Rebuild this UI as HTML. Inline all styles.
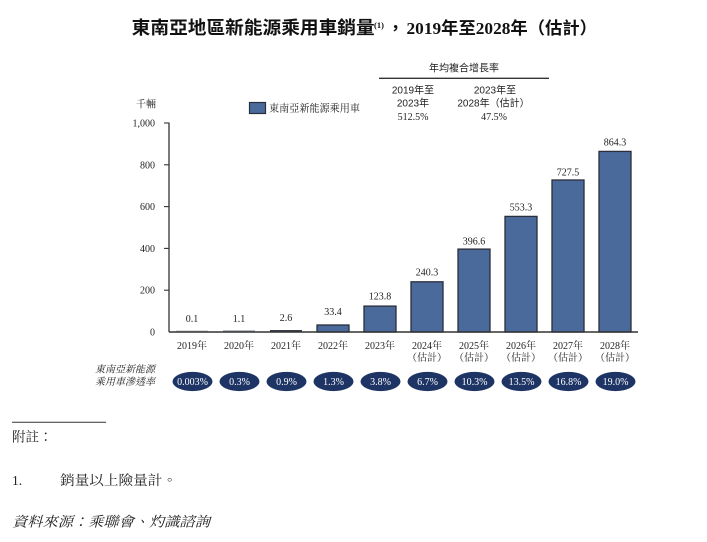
<!DOCTYPE html>
<html lang="zh-TW"><head><meta charset="utf-8"><style>
html,body{margin:0;padding:0;background:#fff;}
svg{display:block;}
.t{font-family:"Liberation Serif","Noto Sans CJK TC",sans-serif;font-weight:bold;fill:#111;}
.s{font-family:"Liberation Sans","Noto Sans CJK TC",sans-serif;fill:#222;}
.r{font-family:"Liberation Serif","Noto Serif CJK SC",serif;fill:#222;}
.w{font-family:"Liberation Serif","Noto Serif CJK SC",serif;fill:#fff;}
</style></head><body>
<svg lang="zh-TW" width="707" height="542" viewBox="0 0 707 542" xmlns="http://www.w3.org/2000/svg">
<!-- Title -->
<text class="t" x="131.7" y="34" font-size="18" textLength="243" lengthAdjust="spacingAndGlyphs">東南亞地區新能源乘用車銷量</text>
<text class="t" x="374" y="28" font-size="8.5" font-weight="normal">(1)</text>
<text class="t" x="387" y="34" font-size="17">，</text>
<text class="t" x="406.5" y="34" font-size="17" textLength="190.5" lengthAdjust="spacingAndGlyphs">2019年至2028年（估計）</text>

<!-- CAGR header -->
<text class="s" x="464" y="71.5" font-size="10" text-anchor="middle">年均複合增長率</text>
<line x1="379" y1="78.3" x2="549" y2="78.3" stroke="#333" stroke-width="1.3"/>
<text class="s" x="413" y="93.5" font-size="10" text-anchor="middle">2019年至</text>
<text class="s" x="413" y="106.5" font-size="10" text-anchor="middle">2023年</text>
<text class="r" x="413" y="120" font-size="10" text-anchor="middle">512.5%</text>
<text class="s" x="495" y="93.5" font-size="10" text-anchor="middle">2023年至</text>
<text class="s" x="493.5" y="106.5" font-size="10" text-anchor="middle">2028年（估計）</text>
<text class="r" x="494" y="120" font-size="10" text-anchor="middle">47.5%</text>

<!-- unit + legend -->
<text class="r" x="146" y="107.5" font-size="10" text-anchor="middle">千輛</text>
<rect x="249.5" y="102.5" width="16" height="11" fill="#4a6a9b" stroke="#2a2d3a" stroke-width="1.2"/>
<text class="r" x="269" y="111.5" font-size="10.5" textLength="91" lengthAdjust="spacingAndGlyphs">東南亞新能源乘用車</text>

<!-- Y axis -->
<line x1="169" y1="122.5" x2="169" y2="332" stroke="#333" stroke-width="1.3"/>
<g stroke="#333" stroke-width="1.1">
<line x1="164" y1="123" x2="169" y2="123"/>
<line x1="164" y1="164.8" x2="169" y2="164.8"/>
<line x1="164" y1="206.6" x2="169" y2="206.6"/>
<line x1="164" y1="248.4" x2="169" y2="248.4"/>
<line x1="164" y1="290.2" x2="169" y2="290.2"/>
</g>
<g class="r" font-size="10" text-anchor="end">
<text x="155" y="126.5">1,000</text>
<text x="155" y="168.3">800</text>
<text x="155" y="210.1">600</text>
<text x="155" y="251.9">400</text>
<text x="155" y="293.7">200</text>
<text x="155" y="335.5">0</text>
</g>

<!-- Bars -->
<g fill="#4a6a9b" stroke="#2a2d3a" stroke-width="1.3">
<rect x="317" y="325" width="32" height="7"/>
<rect x="364" y="306.1" width="32" height="25.9"/>
<rect x="411" y="281.8" width="32" height="50.2"/>
<rect x="458" y="249.1" width="32" height="82.9"/>
<rect x="505" y="216.4" width="32" height="115.6"/>
<rect x="552" y="180" width="32" height="152"/>
<rect x="599" y="151.4" width="32" height="180.6"/>
</g>
<rect x="176" y="330.5" width="32" height="1.2" fill="#b8bcc4"/>
<rect x="223" y="330.3" width="32" height="1.4" fill="#9aa0aa"/>
<rect x="270" y="330" width="32" height="1.8" fill="#3a3e4a"/>
<line x1="169" y1="332" x2="638" y2="332" stroke="#333" stroke-width="1.5"/>

<!-- value labels -->
<g class="r" font-size="10" text-anchor="middle">
<text x="192" y="322">0.1</text>
<text x="239" y="322">1.1</text>
<text x="286" y="321">2.6</text>
<text x="333" y="315">33.4</text>
<text x="380" y="299.3">123.8</text>
<text x="427" y="275.3">240.3</text>
<text x="474" y="244.3">396.6</text>
<text x="521" y="210.3">553.3</text>
<text x="568" y="175.3">727.5</text>
<text x="615" y="145.3">864.3</text>
</g>

<!-- x labels -->
<g class="r" font-size="10" text-anchor="middle">
<text x="192" y="349">2019年</text>
<text x="239" y="349">2020年</text>
<text x="286" y="349">2021年</text>
<text x="333" y="349">2022年</text>
<text x="380" y="349">2023年</text>
<text x="427" y="349">2024年</text>
<text x="474" y="349">2025年</text>
<text x="521" y="349">2026年</text>
<text x="568" y="349">2027年</text>
<text x="615" y="349">2028年</text>
<text x="427" y="361">（估計）</text>
<text x="474" y="361">（估計）</text>
<text x="521" y="361">（估計）</text>
<text x="568" y="361">（估計）</text>
<text x="615" y="361">（估計）</text>
</g>

<!-- penetration row -->
<g class="r" font-size="10" font-style="italic" text-anchor="end">
<text x="155" y="372.5">東南亞新能源</text>
<text x="155" y="385">乘用車滲透率</text>
</g>
<g fill="#1d3465">
<ellipse cx="192.5" cy="381.5" rx="20" ry="9.6"/>
<ellipse cx="239.5" cy="381.5" rx="20" ry="9.6"/>
<ellipse cx="286.5" cy="381.5" rx="20" ry="9.6"/>
<ellipse cx="333.5" cy="381.5" rx="20" ry="9.6"/>
<ellipse cx="380.5" cy="381.5" rx="20" ry="9.6"/>
<ellipse cx="427.5" cy="381.5" rx="20" ry="9.6"/>
<ellipse cx="474.5" cy="381.5" rx="20" ry="9.6"/>
<ellipse cx="521.5" cy="381.5" rx="20" ry="9.6"/>
<ellipse cx="568.5" cy="381.5" rx="20" ry="9.6"/>
<ellipse cx="615.5" cy="381.5" rx="20" ry="9.6"/>
</g>
<g class="w" font-size="10" text-anchor="middle">
<text x="192.5" y="385">0.003%</text>
<text x="239.5" y="385">0.3%</text>
<text x="286.5" y="385">0.9%</text>
<text x="333.5" y="385">1.3%</text>
<text x="380.5" y="385">3.8%</text>
<text x="427.5" y="385">6.7%</text>
<text x="474.5" y="385">10.3%</text>
<text x="521.5" y="385">13.5%</text>
<text x="568.5" y="385">16.8%</text>
<text x="615.5" y="385">19.0%</text>
</g>

<!-- footnotes -->
<line x1="12" y1="422.3" x2="106" y2="422.3" stroke="#333" stroke-width="1"/>
<text class="r" x="12" y="441.5" font-size="13.5">附註：</text>
<text class="r" x="12" y="485" font-size="13.5">1.</text>
<text class="r" x="60" y="485" font-size="13.5" textLength="117" lengthAdjust="spacingAndGlyphs">銷量以上險量計。</text>
<text class="r" x="12" y="526.5" font-size="14" font-style="italic" textLength="198" lengthAdjust="spacingAndGlyphs">資料來源：乘聯會、灼識諮詢</text>
</svg>
</body></html>
